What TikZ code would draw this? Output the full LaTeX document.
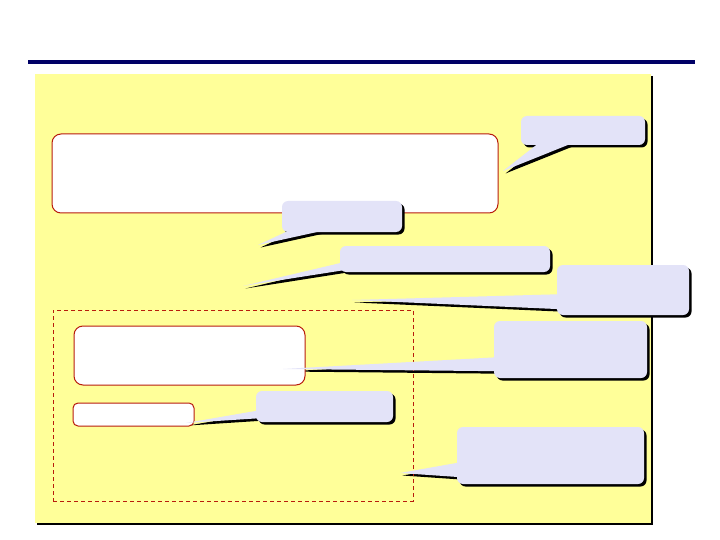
\documentclass[tikz,border=0pt]{standalone}
\usetikzlibrary{shadows,calc}
\definecolor{panel}{HTML}{FFFF99}
\definecolor{calfill}{HTML}{E3E3F8}
\definecolor{boxred}{HTML}{B81C0C}
\definecolor{navy}{HTML}{000066}
\pgfdeclarelayer{back}\pgfdeclarelayer{shad}\pgfsetlayers{back,shad,main}
\newcommand\calltail[4]{%
  \begin{pgfonlayer}{shad}
    \fill[black, transform canvas={shift={(2.5pt,-2.5pt)}}] ($(#1.south west)+#2$) -- (#4) -- ($(#1.south west)+#3$) -- cycle;
  \end{pgfonlayer}
  \fill[calfill] ($(#1.south west)+#2$) -- (#4) -- ($(#1.south west)+#3$) -- cycle;}
\tikzset{
  panelbox/.style={fill=panel, inner sep=0, drop shadow={shadow xshift=2pt, shadow yshift=-2pt, fill=black, opacity=1}},
  whitebox/.style={draw=boxred, fill=white, line width=1pt, rounded corners=9pt, inner sep=0},
  smallbox/.style={whitebox, rounded corners=5pt},
  groupbox/.style={draw=boxred, line width=0.8pt, dash pattern=on 4pt off 3pt, inner sep=0},
  callout/.style={fill=calfill, rounded corners=6pt, inner sep=0, drop shadow={shadow xshift=2.5pt, shadow yshift=-2.5pt, fill=black, opacity=1}},
}
\begin{document}
\begin{tikzpicture}[x=1pt,y=-1pt]
\useasboundingbox (0,0) rectangle (720,540);
\begin{pgfonlayer}{back}
  \fill[white] (0,0) rectangle (720,540);
  \node[panelbox, minimum width=616pt, minimum height=449pt] (panel) at (343,298.5) {};
  \draw[navy, line width=3.5pt] (28,62) -- (695,62);
\end{pgfonlayer}
% white boxes
\node[whitebox, minimum width=446pt, minimum height=79pt] (big) at (275,173.5) {};
\node[groupbox, minimum width=360pt, minimum height=191pt] (group) at (233,405.5) {};
\node[whitebox, minimum width=231pt, minimum height=59pt] (inner) at (189.5,355.5) {};
\node[smallbox, minimum width=121pt, minimum height=23pt] (small) at (133.5,414.5) {};
% tips
\coordinate (t1) at (503,171);
\coordinate (t2) at (258,245);
\coordinate (t3) at (243,286);
\coordinate (t4) at (352,300);
\coordinate (t5) at (283,369);
\coordinate (t6) at (186,423);
\coordinate (t7) at (400,473);
% callouts
\node[callout, minimum width=124pt, minimum height=29pt] (c1) at (583,130.5) {};
\calltail{c1}{(19,-3)}{(54,-3)}{t1}
\node[callout, minimum width=120pt, minimum height=31pt] (c2) at (342,216.5) {};
\calltail{c2}{(10,-3)}{(48,-3)}{t2}
\node[callout, minimum width=210pt, minimum height=26pt] (c3) at (445,259) {};
\calltail{c3}{(4,-10)}{(4,-2)}{t3}
\node[callout, minimum width=132pt, minimum height=50pt] (c4) at (623,290) {};
\calltail{c4}{(4,-21)}{(4,-6)}{t4}
\node[callout, minimum width=153pt, minimum height=57pt] (c5) at (570.5,349.5) {};
\calltail{c5}{(4,-21)}{(4,-7)}{t5}
\node[callout, minimum width=137pt, minimum height=31pt] (c6) at (324.5,406.5) {};
\calltail{c6}{(4,-12)}{(4,-4)}{t6}
\node[callout, minimum width=187pt, minimum height=57pt] (c7) at (550.5,455.5) {};
\calltail{c7}{(4,-22)}{(4,-7)}{t7}
\end{tikzpicture}
\end{document}
